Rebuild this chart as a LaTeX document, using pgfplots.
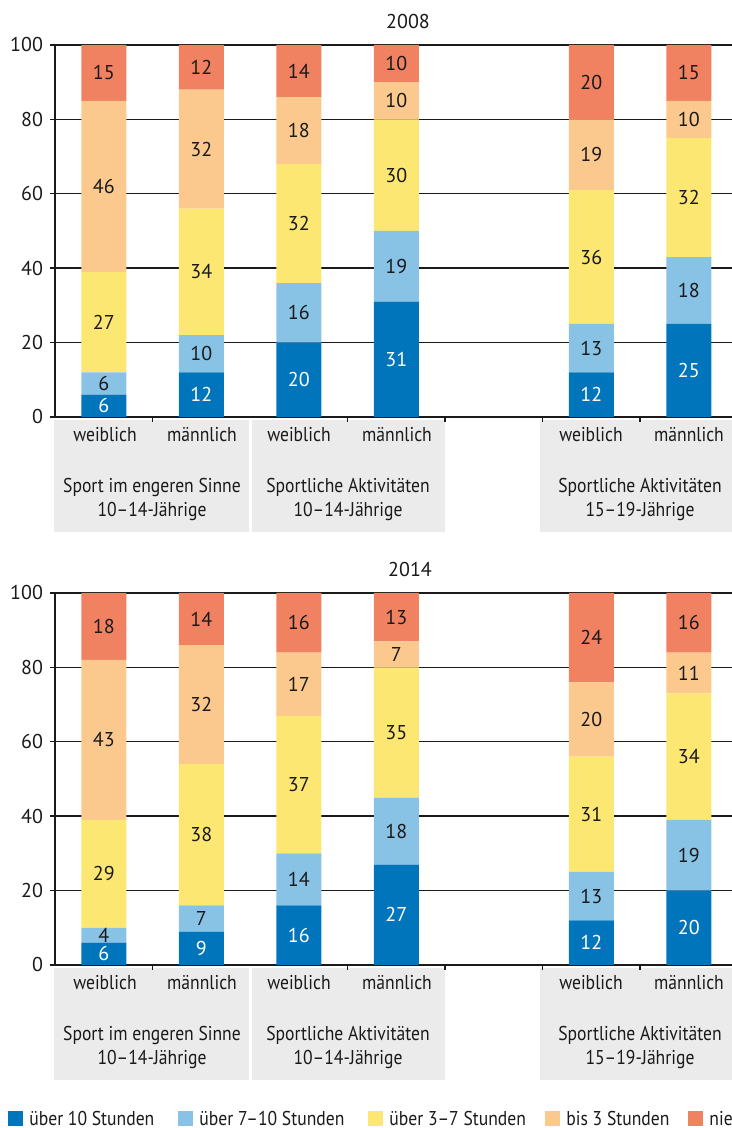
\documentclass[border=0pt]{standalone}
\usepackage{fontspec}
\setmainfont{PT Sans}
\newfontfamily\narrow{PT Sans}[FakeStretch=0.88]
\usepackage{pgfplots}
\pgfplotsset{compat=1.18}
\usepackage{pgfplotstable}

\definecolor{cA}{HTML}{0075BC}
\definecolor{cB}{HTML}{88C2E5}
\definecolor{cC}{HTML}{FDE773}
\definecolor{cD}{HTML}{FBC98D}
\definecolor{cE}{HTML}{F08262}
\definecolor{boxgray}{HTML}{EBEBEB}
\definecolor{ink}{HTML}{1A1A1A}

% columns: a = über 10 h, b = über 7-10 h, c = über 3-7 h, d = bis 3 h, e = nie
\pgfplotstableread{
x a  b  c  d  e
0 6  6  27 46 15
1 12 10 34 32 12
2 20 16 32 18 14
3 31 19 30 10 10
5 12 13 36 19 20
6 25 18 32 10 15
}\dataA
\pgfplotstableread{
x a  b  c  d  e
0 6  4  29 43 18
1 9  7  38 32 14
2 16 14 37 17 16
3 27 18 35 7  13
5 12 13 31 20 24
6 20 19 34 11 16
}\dataB

\newcommand{\fs}{\fontsize{10}{12}\selectfont}
\newcommand{\ns}{\narrow\fontsize{10}{12}\selectfont}

\pgfplotsset{
  /pgf/number format/assume math mode=true,
  panel/.style={scale only axis, width=338.5pt, height=186pt, anchor=south west,
    xmin=-0.5, xmax=6.4436, ymin=0, ymax=100},
  frame/.style={panel, ybar stacked, bar width=22.5pt,
    axis x line*=bottom, axis y line*=left,
    axis line style={ink, line width=0.7pt},
    ymajorgrids, grid style={ink, line width=0.7pt},
    xtick={0.5,2.5,3.5,4.5,5.5}, xticklabels={},
    ytick={0,20,...,100},
    tick align=outside, major tick length=2.5pt,
    tick style={ink, line width=0.7pt},
    yticklabel style={font=\fs, text=ink},
  },
  labels/.style={panel, hide axis, clip=false,
    nodes near coords, point meta=explicit,
    every node near coord/.append style={anchor=center, font=\fs, text=ink},
  },
}

\newcommand{\panel}[2]{%
  \begin{axis}[frame, at={(27.5pt,#2)}]
    \addplot[fill=cA, draw=none] table[x=x,y=a]{#1};
    \addplot[fill=cB, draw=none] table[x=x,y=b]{#1};
    \addplot[fill=cC, draw=none] table[x=x,y=c]{#1};
    \addplot[fill=cD, draw=none] table[x=x,y=d]{#1};
    \addplot[fill=cE, draw=none] table[x=x,y=e]{#1};
  \end{axis}
  \begin{axis}[labels, at={(27.5pt,#2)}]
    \addplot[draw=none, mark=none, every node near coord/.append style={text=white}]
      table[x=x, y expr=\thisrow{a}/2, meta=a]{#1};
    \addplot[draw=none, mark=none]
      table[x=x, y expr=\thisrow{a}+\thisrow{b}/2, meta=b]{#1};
    \addplot[draw=none, mark=none]
      table[x=x, y expr=\thisrow{a}+\thisrow{b}+\thisrow{c}/2, meta=c]{#1};
    \addplot[draw=none, mark=none]
      table[x=x, y expr=\thisrow{a}+\thisrow{b}+\thisrow{c}+\thisrow{d}/2, meta=d]{#1};
    \addplot[draw=none, mark=none]
      table[x=x, y expr=\thisrow{a}+\thisrow{b}+\thisrow{c}+\thisrow{d}+\thisrow{e}/2, meta=e]{#1};
  \end{axis}
}

% category boxes and their labels, #1 = vertical offset of the panel
\newcommand{\groups}[1]{%
  \fill[boxgray] (54,420+#1) rectangle (249,532+#1);
  \fill[boxgray] (252,420+#1) rectangle (445,532+#1);
  \fill[boxgray] (540,420+#1) rectangle (740,532+#1);
  \foreach \cx/\lab in {105/weiblich,202/männlich,299/weiblich,397/männlich,591/weiblich,689/männlich}
    \node[font=\ns, text=ink, anchor=base, inner sep=0pt] at (\cx,442+#1) {\lab};
  \node[font=\ns, text=ink, anchor=base, inner sep=0pt] at (152,493+#1) {Sport im engeren Sinne};
  \node[font=\ns, text=ink, anchor=base, inner sep=0pt] at (152,517+#1) {10–14-Jährige};
  \node[font=\ns, text=ink, anchor=base, inner sep=0pt] at (348,493+#1) {Sportliche Aktivitäten};
  \node[font=\ns, text=ink, anchor=base, inner sep=0pt] at (348,517+#1) {10–14-Jährige};
  \node[font=\ns, text=ink, anchor=base, inner sep=0pt] at (640,493+#1) {Sportliche Aktivitäten};
  \node[font=\ns, text=ink, anchor=base, inner sep=0pt] at (640,517+#1) {15–19-Jährige};
}

\begin{document}
\begin{tikzpicture}
\useasboundingbox (0,0) rectangle (366pt,564pt);
% page furniture in pixel units, origin top left
\begin{scope}[yshift=564pt, x=0.5pt, y=-0.5pt]
  \groups{0}
  \groups{548}
  \node[font=\fs, text=ink, anchor=base, inner sep=0pt] at (408,29) {2008};
  \node[font=\fs, text=ink, anchor=base, inner sep=0pt] at (410,577) {2014};
  % legend
  \foreach \sx/\col/\lab in {8/cA/über 10 Stunden, 178/cB/über 7–10 Stunden,
      368/cC/über 3–7 Stunden, 545/cD/bis 3 Stunden, 688/cE/nie}{
    \fill[\col] (\sx,1111) rectangle (\sx+15,1126);
    \node[font=\ns, text=ink, anchor=base west, inner sep=0pt] at (\sx+21,1125) {\lab};
  }
\end{scope}
\panel{\dataA}{355.5pt}
\panel{\dataB}{81.5pt}
\end{tikzpicture}
\end{document}
